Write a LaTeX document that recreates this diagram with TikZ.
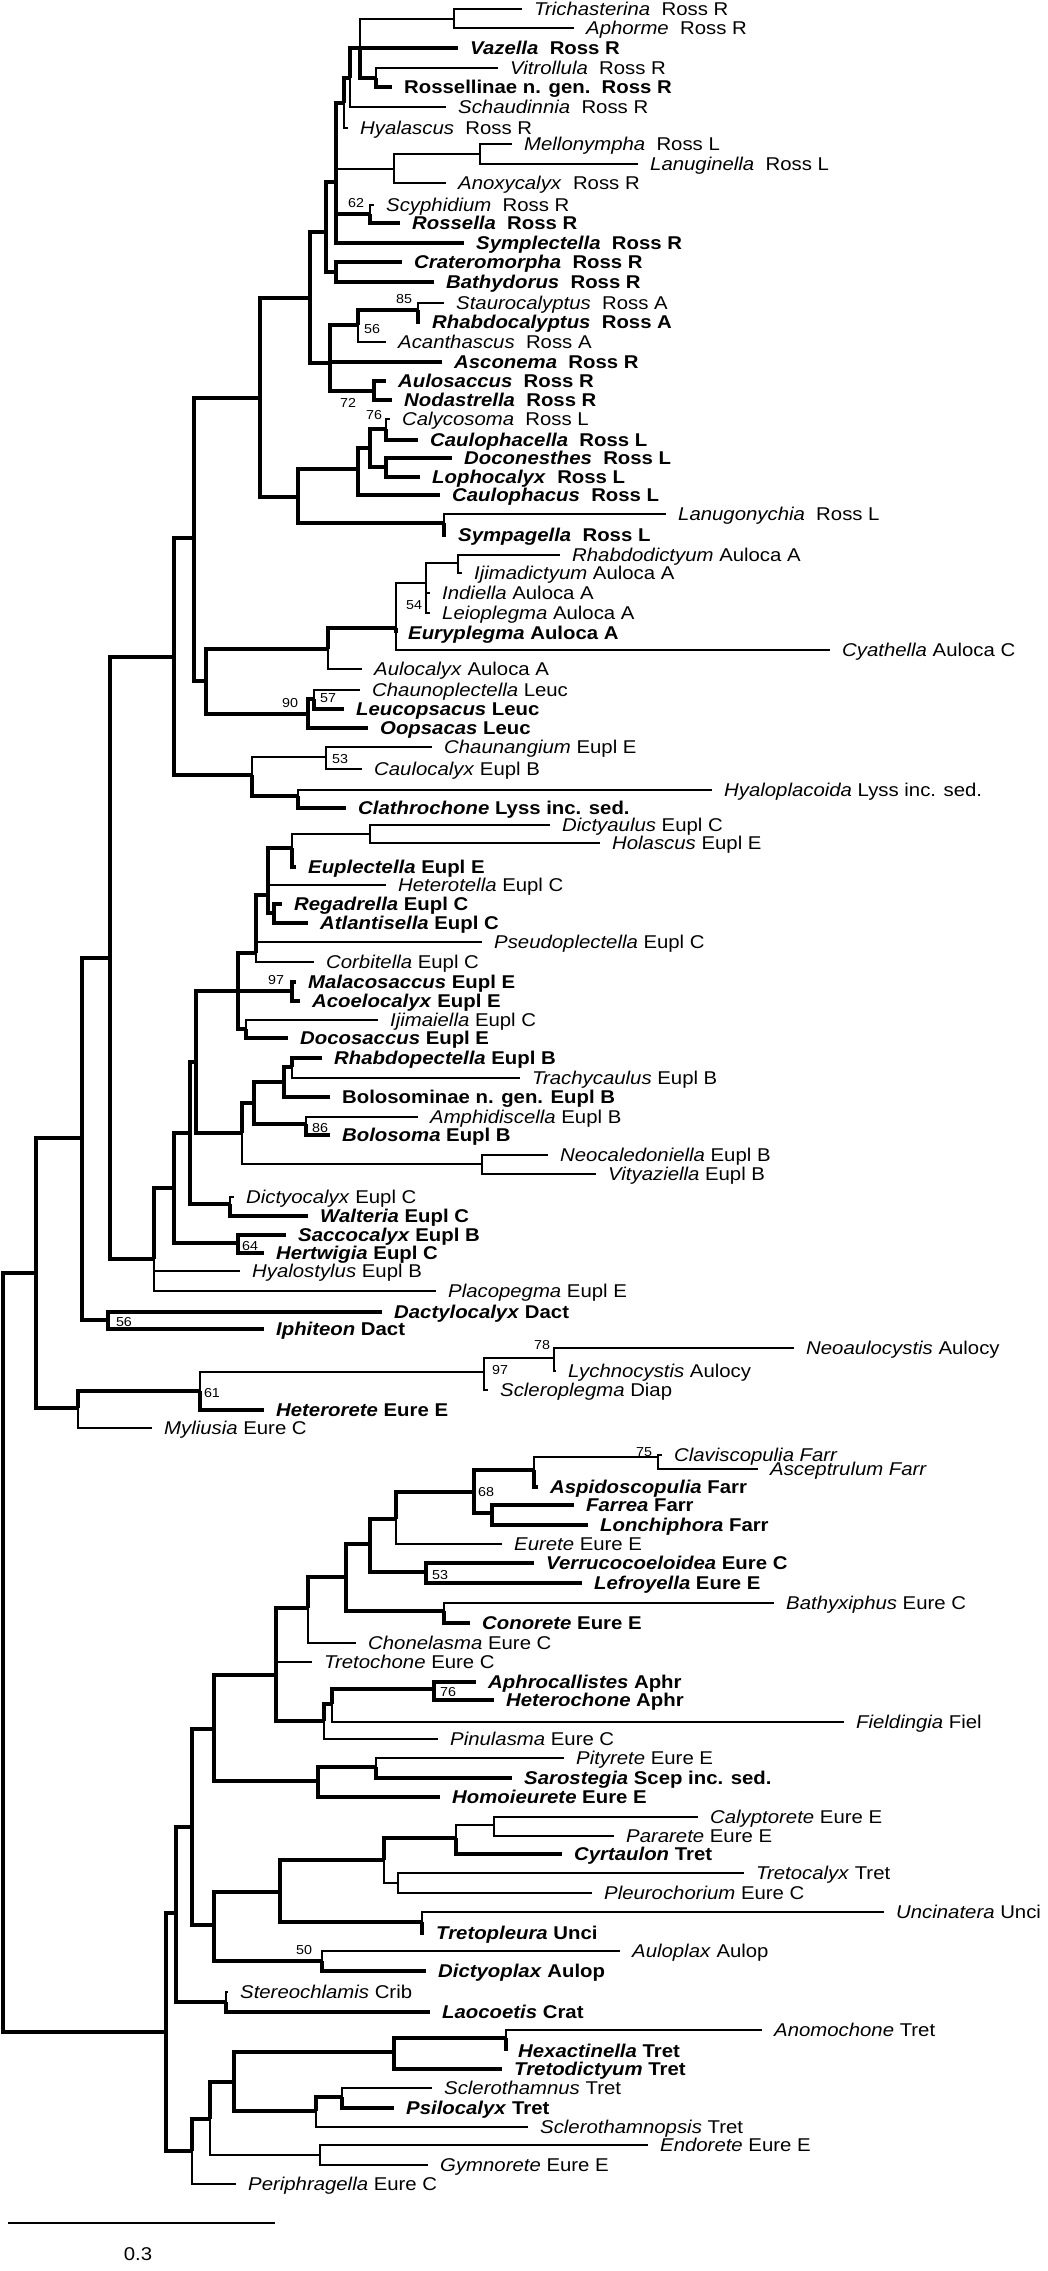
\documentclass[tikz,border=0pt]{standalone}
\usepackage{fontspec}
\setmainfont{Liberation Sans}[FakeStretch=1.1]
\newcommand\tipfont{\fontsize{18.5}{21}\selectfont}

\begin{document}
\begin{tikzpicture}[x=1pt, y=-1pt,
  tip/.style={anchor=west, inner xsep=12pt, inner ysep=0pt, text height=13.5pt, text depth=0pt, font=\tipfont},
  btip/.style={tip, font=\tipfont\bfseries},
  twig/.style={line width=1.3pt},
  trunk/.style={line width=3.3pt},
  boot/.style={inner sep=0pt, font=\fontsize{13}{14}\selectfont}
]
  \useasboundingbox (0,0) rectangle (1048,2271);

  % internal nodes
  \coordinate (pta) at (454,19);
  \coordinate (pvr) at (376,78);
  \coordinate (n1) at (360,48);
  \coordinate (n2) at (350,78);
  \coordinate (n3) at (344,103);
  \coordinate (pml) at (480,154);
  \coordinate (pmla) at (394,169);
  \coordinate (psr) at (370,214);
  \coordinate (n4) at (336,182);
  \coordinate (pcb) at (336,272);
  \coordinate (n5) at (326,232);
  \coordinate (psrh) at (418,310);
  \coordinate (psra) at (358,325);
  \coordinate (pan) at (374,391);
  \coordinate (n7) at (330,363);
  \coordinate (n6) at (310,298);
  \coordinate (pcc) at (386,429);
  \coordinate (pdl) at (386,467);
  \coordinate (pccdl) at (370,448);
  \coordinate (nc1) at (358,469);
  \coordinate (pls) at (444,523);
  \coordinate (ncaul) at (298,497);
  \coordinate (n8) at (260,398);
  \coordinate (pri) at (458,563);
  \coordinate (priil) at (426,583);
  \coordinate (peur) at (396,628);
  \coordinate (pea) at (328,649);
  \coordinate (pcl) at (314,699);
  \coordinate (pclo) at (308,714);
  \coordinate (naul) at (206,681);
  \coordinate (n9) at (194,538);
  \coordinate (pcc2) at (326,757);
  \coordinate (phc) at (298,796);
  \coordinate (nlyss) at (252,775);
  \coordinate (n10) at (174,657);
  \coordinate (pdh) at (370,834);
  \coordinate (pdhe) at (292,848);
  \coordinate (pra) at (274,913);
  \coordinate (ne1) at (268,895);
  \coordinate (ne2) at (256,953);
  \coordinate (pma) at (292,991);
  \coordinate (pid) at (246,1029);
  \coordinate (ne3) at (238,991);
  \coordinate (prt) at (292,1067);
  \coordinate (prtb) at (284,1082);
  \coordinate (pab) at (306,1124);
  \coordinate (nb1) at (254,1103);
  \coordinate (pnv) at (482,1164);
  \coordinate (nb2) at (242,1133);
  \coordinate (ne4) at (196,1062);
  \coordinate (pdw) at (230,1204);
  \coordinate (ne5) at (190,1133);
  \coordinate (psh) at (238,1243);
  \coordinate (ne6) at (174,1188);
  \coordinate (ne7) at (154,1259);
  \coordinate (n11) at (110,958);
  \coordinate (pdi) at (108,1320);
  \coordinate (n12) at (82,1138);
  \coordinate (pnl) at (554,1358);
  \coordinate (pnls) at (484,1372);
  \coordinate (ph) at (200,1391);
  \coordinate (n13) at (78,1408);
  \coordinate (n14) at (36,1273);
  \coordinate (pca) at (658,1457);
  \coordinate (pcaa) at (534,1470);
  \coordinate (pfl) at (492,1513);
  \coordinate (pfarr) at (474,1492);
  \coordinate (nh1) at (396,1519);
  \coordinate (pvl) at (426,1572);
  \coordinate (nh2) at (370,1544);
  \coordinate (pbc) at (444,1611);
  \coordinate (nh3) at (346,1577);
  \coordinate (nh4) at (308,1608);
  \coordinate (pah) at (434,1689);
  \coordinate (pahf) at (332,1704);
  \coordinate (papf) at (324,1721);
  \coordinate (nh5) at (276,1675);
  \coordinate (pps) at (376,1767);
  \coordinate (ppsh) at (318,1781);
  \coordinate (nh6) at (214,1729);
  \coordinate (pcp) at (494,1825);
  \coordinate (pcpc) at (456,1838);
  \coordinate (ptp) at (398,1883);
  \coordinate (nh7) at (384,1860);
  \coordinate (put) at (422,1922);
  \coordinate (nh8) at (280,1892);
  \coordinate (pad) at (322,1961);
  \coordinate (nh9) at (214,1925);
  \coordinate (nh10) at (192,1827);
  \coordinate (psl) at (226,2002);
  \coordinate (nh11) at (176,1913);
  \coordinate (panh) at (506,2038);
  \coordinate (paht) at (394,2052);
  \coordinate (psp) at (342,2097);
  \coordinate (psps) at (316,2111);
  \coordinate (nh12) at (234,2082);
  \coordinate (peg) at (320,2155);
  \coordinate (nh13) at (210,2119);
  \coordinate (nh14) at (192,2151);
  \coordinate (nh15) at (166,2032);
  \coordinate (root) at (3,1652);

  % tips
  \node[tip] (trich) at (522,9) {\textit{Trichasterina}\ \ Ross R};
  \node[tip] (aphor) at (574,28) {\textit{Aphorme}\ \ Ross R};
  \node[btip] (vaz) at (458,48) {\textit{Vazella}\ \ Ross R};
  \node[tip] (vitro) at (498,68) {\textit{Vitrollula}\ \ Ross R};
  \node[btip] (rossn) at (392,87) {Rossellinae n. gen.\ \ Ross R};
  \node[tip] (schaud) at (446,107) {\textit{Schaudinnia}\ \ Ross R};
  \node[tip] (hyal) at (348,128) {\textit{Hyalascus}\ \ Ross R};
  \node[tip] (mello) at (512,144) {\textit{Mellonympha}\ \ Ross L};
  \node[tip] (lanug) at (638,164) {\textit{Lanuginella}\ \ Ross L};
  \node[tip] (anoxy) at (446,183) {\textit{Anoxycalyx}\ \ Ross R};
  \node[tip] (scyph) at (374,205) {\textit{Scyphidium}\ \ Ross R};
  \node[btip] (rossella) at (400,223) {\textit{Rossella}\ \ Ross R};
  \node[btip] (sympl) at (464,243) {\textit{Symplectella}\ \ Ross R};
  \node[btip] (crat) at (402,262) {\textit{Crateromorpha}\ \ Ross R};
  \node[btip] (bathy) at (434,282) {\textit{Bathydorus}\ \ Ross R};
  \node[tip] (stauro) at (444,303) {\textit{Staurocalyptus}\ \ Ross A};
  \node[btip] (rhabdoc) at (420,322) {\textit{Rhabdocalyptus}\ \ Ross A};
  \node[tip] (acanth) at (386,342) {\textit{Acanthascus}\ \ Ross A};
  \node[btip] (ascon) at (442,362) {\textit{Asconema}\ \ Ross R};
  \node[btip] (aulos) at (386,381) {\textit{Aulosaccus}\ \ Ross R};
  \node[btip] (nodas) at (392,400) {\textit{Nodastrella}\ \ Ross R};
  \node[tip] (calyc) at (390,419) {\textit{Calycosoma}\ \ Ross L};
  \node[btip] (cphella) at (418,440) {\textit{Caulophacella}\ \ Ross L};
  \node[btip] (docon) at (452,458) {\textit{Doconesthes}\ \ Ross L};
  \node[btip] (lopho) at (420,477) {\textit{Lophocalyx}\ \ Ross L};
  \node[btip] (cphus) at (440,495) {\textit{Caulophacus}\ \ Ross L};
  \node[tip] (lanugo) at (666,514) {\textit{Lanugonychia}\ \ Ross L};
  \node[btip] (sympa) at (446,535) {\textit{Sympagella}\ \ Ross L};

  \node[tip] (rhabdod) at (560,555) {\textit{Rhabdodictyum} Auloca A};
  \node[tip] (ijima) at (462,573) {\textit{Ijimadictyum} Auloca A};
  \node[tip] (indi) at (430,593) {\textit{Indiella} Auloca A};
  \node[tip] (leio) at (430,613) {\textit{Leioplegma} Auloca A};
  \node[btip] (eury) at (396,633) {\textit{Euryplegma} Auloca A};
  \node[tip] (cyath) at (830,650) {\textit{Cyathella} Auloca C};
  \node[tip] (auloc) at (362,669) {\textit{Aulocalyx} Auloca A};
  \node[tip] (chaunop) at (360,690) {\textit{Chaunoplectella} Leuc};
  \node[btip] (leucop) at (344,709) {\textit{Leucopsacus} Leuc};
  \node[btip] (oopsa) at (368,728) {\textit{Oopsacas} Leuc};
  \node[tip] (chaunan) at (432,747) {\textit{Chaunangium} Eupl E};
  \node[tip] (cauloc) at (362,769) {\textit{Caulocalyx} Eupl B};
  \node[tip] (hyalop) at (712,790) {\textit{Hyaloplacoida} Lyss inc. sed.};
  \node[btip] (clath) at (346,808) {\textit{Clathrochone} Lyss inc. sed.};

  \node[tip] (dictyaul) at (550,825) {\textit{Dictyaulus} Eupl C};
  \node[tip] (holasc) at (600,843) {\textit{Holascus} Eupl E};
  \node[btip] (euplec) at (296,867) {\textit{Euplectella} Eupl E};
  \node[tip] (hetero) at (386,885) {\textit{Heterotella} Eupl C};
  \node[btip] (regad) at (282,904) {\textit{Regadrella} Eupl C};
  \node[btip] (atlan) at (308,923) {\textit{Atlantisella} Eupl C};
  \node[tip] (pseudo) at (482,942) {\textit{Pseudoplectella} Eupl C};
  \node[tip] (corbit) at (314,962) {\textit{Corbitella} Eupl C};
  \node[btip] (malaco) at (296,982) {\textit{Malacosaccus} Eupl E};
  \node[btip] (acoelo) at (300,1001) {\textit{Acoelocalyx} Eupl E};
  \node[tip] (ijimai) at (378,1020) {\textit{Ijimaiella} Eupl C};
  \node[btip] (docos) at (288,1038) {\textit{Docosaccus} Eupl E};
  \node[btip] (rhabdop) at (322,1058) {\textit{Rhabdopectella} Eupl B};
  \node[tip] (trachy) at (520,1078) {\textit{Trachycaulus} Eupl B};
  \node[btip] (bolosn) at (330,1097) {Bolosominae n. gen. Eupl B};
  \node[tip] (amphi) at (418,1117) {\textit{Amphidiscella} Eupl B};
  \node[btip] (bolos) at (330,1135) {\textit{Bolosoma} Eupl B};
  \node[tip] (neocal) at (548,1155) {\textit{Neocaledoniella} Eupl B};
  \node[tip] (vityaz) at (596,1174) {\textit{Vityaziella} Eupl B};
  \node[tip] (dictyoc) at (234,1197) {\textit{Dictyocalyx} Eupl C};
  \node[btip] (walter) at (308,1216) {\textit{Walteria} Eupl C};
  \node[btip] (sacco) at (286,1235) {\textit{Saccocalyx} Eupl B};
  \node[btip] (hertw) at (264,1253) {\textit{Hertwigia} Eupl C};
  \node[tip] (hyalos) at (240,1271) {\textit{Hyalostylus} Eupl B};
  \node[tip] (placo) at (436,1291) {\textit{Placopegma} Eupl E};
  \node[btip] (dactylo) at (382,1312) {\textit{Dactylocalyx} Dact};
  \node[btip] (iphit) at (264,1329) {\textit{Iphiteon} Dact};
  \node[tip] (neoaul) at (794,1348) {\textit{Neoaulocystis} Aulocy};
  \node[tip] (lychno) at (556,1371) {\textit{Lychnocystis} Aulocy};
  \node[tip] (sclerop) at (488,1390) {\textit{Scleroplegma} Diap};
  \node[btip] (heteror) at (264,1410) {\textit{Heterorete} Eure E};
  \node[tip] (mylius) at (152,1428) {\textit{Myliusia} Eure C};

  \node[tip] (clavis) at (662,1455) {\textit{Claviscopulia Farr}};
  \node[tip] (ascep) at (758,1469) {\textit{Asceptrulum Farr}};
  \node[btip] (aspido) at (538,1487) {\textit{Aspidoscopulia} Farr};
  \node[btip] (farrea) at (574,1505) {\textit{Farrea} Farr};
  \node[btip] (lonch) at (588,1525) {\textit{Lonchiphora} Farr};
  \node[tip] (eurete) at (502,1544) {\textit{Eurete} Eure E};
  \node[btip] (verruc) at (534,1563) {\textit{Verrucocoeloidea} Eure C};
  \node[btip] (lefroy) at (582,1583) {\textit{Lefroyella} Eure E};
  \node[tip] (bathyx) at (774,1603) {\textit{Bathyxiphus} Eure C};
  \node[btip] (conor) at (470,1623) {\textit{Conorete} Eure E};
  \node[tip] (chonel) at (356,1643) {\textit{Chonelasma} Eure C};
  \node[tip] (tretoch) at (312,1662) {\textit{Tretochone} Eure C};
  \node[btip] (aphroc) at (476,1682) {\textit{Aphrocallistes} Aphr};
  \node[btip] (heteroc) at (494,1700) {\textit{Heterochone} Aphr};
  \node[tip] (fieldi) at (844,1722) {\textit{Fieldingia} Fiel};
  \node[tip] (pinul) at (438,1739) {\textit{Pinulasma} Eure C};
  \node[tip] (pityr) at (564,1758) {\textit{Pityrete} Eure E};
  \node[btip] (sarost) at (512,1778) {\textit{Sarostegia} Scep inc. sed.};
  \node[btip] (homoi) at (440,1797) {\textit{Homoieurete} Eure E};
  \node[tip] (calypt) at (698,1817) {\textit{Calyptorete} Eure E};
  \node[tip] (parar) at (614,1836) {\textit{Pararete} Eure E};
  \node[btip] (cyrta) at (562,1854) {\textit{Cyrtaulon} Tret};
  \node[tip] (tretoc) at (744,1873) {\textit{Tretocalyx} Tret};
  \node[tip] (pleuro) at (592,1893) {\textit{Pleurochorium} Eure C};
  \node[tip] (uncin) at (884,1912) {\textit{Uncinatera} Unci};
  \node[btip] (tretop) at (424,1933) {\textit{Tretopleura} Unci};
  \node[tip] (aulop) at (620,1951) {\textit{Auloplax} Aulop};
  \node[btip] (dictyop) at (426,1971) {\textit{Dictyoplax} Aulop};
  \node[tip] (stereo) at (228,1992) {\textit{Stereochlamis} Crib};
  \node[btip] (laoco) at (430,2012) {\textit{Laocoetis} Crat};
  \node[tip] (anomo) at (762,2030) {\textit{Anomochone} Tret};
  \node[btip] (hexact) at (506,2051) {\textit{Hexactinella} Tret};
  \node[btip] (tretod) at (502,2069) {\textit{Tretodictyum} Tret};
  \node[tip] (sclerot) at (432,2088) {\textit{Sclerothamnus} Tret};
  \node[btip] (psiloc) at (394,2108) {\textit{Psilocalyx} Tret};
  \node[tip] (sclerops) at (528,2127) {\textit{Sclerothamnopsis} Tret};
  \node[tip] (endor) at (648,2145) {\textit{Endorete} Eure E};
  \node[tip] (gymno) at (428,2165) {\textit{Gymnorete} Eure E};
  \node[tip] (periph) at (236,2184) {\textit{Periphragella} Eure C};

  % branches
  \draw[twig] (pta) |- (trich.west) (pta) |- (aphor.west) (n1) |- (pta)
    (pvr) |- (vitro.west) (n2) |- (schaud.west) (n3) |- (hyal.west)
    (pml) |- (mello.west) (pml) |- (lanug.west) (pmla) |- (pml) (pmla) |- (anoxy.west) (n4) |- (pmla)
    (psr) |- (scyph.west) (psrh) |- (stauro.west) (psra) |- (acanth.west)
    (pcc) |- (calyc.west) (pls) |- (lanugo.west)
    (pri) |- (rhabdod.west) (pri) |- (ijima.west) (priil) |- (pri) (priil) |- (indi.west) (priil) |- (leio.west)
    (peur) |- (priil) (peur) |- (cyath.west) (pea) |- (auloc.west) (pcl) |- (chaunop.west)
    (pcc2) |- (chaunan.west) (pcc2) |- (cauloc.west) (nlyss) |- (pcc2) (phc) |- (hyalop.west)
    (pdh) |- (dictyaul.west) (pdh) |- (holasc.west) (pdhe) |- (pdh) (ne1) |- (hetero.west)
    (ne2) |- (pseudo.west) (ne2) |- (corbit.west) (pid) |- (ijimai.west) (prt) |- (trachy.west)
    (pab) |- (amphi.west) (pnv) |- (neocal.west) (pnv) |- (vityaz.west) (nb2) |- (pnv)
    (pdw) |- (dictyoc.west) (ne7) |- (hyalos.west) (ne7) |- (placo.west)
    (pnl) |- (neoaul.west) (pnl) |- (lychno.west) (pnls) |- (pnl) (pnls) |- (sclerop.west) (ph) |- (pnls)
    (n13) |- (mylius.west)
    (pca) |- (clavis.west) (pca) |- (ascep.west) (pcaa) |- (pca) (nh1) |- (eurete.west)
    (pbc) |- (bathyx.west) (nh4) |- (chonel.west) (nh5) |- (tretoch.west)
    (pahf) |- (fieldi.west) (papf) |- (pinul.west) (pps) |- (pityr.west)
    (pcp) |- (calypt.west) (pcp) |- (parar.west) (pcpc) |- (pcp)
    (ptp) |- (tretoc.west) (ptp) |- (pleuro.west) (nh7) |- (ptp)
    (put) |- (uncin.west) (pad) |- (aulop.west) (psl) |- (stereo.west) (panh) |- (anomo.west)
    (psp) |- (sclerot.west) (psps) |- (sclerops.west)
    (peg) |- (endor.west) (peg) |- (gymno.west) (nh13) |- (peg) (nh14) |- (periph.west);

  \draw[trunk] (n1) |- (vaz.west) (n1) |- (pvr) (pvr) |- (rossn.west) (n2) |- (n1) (n3) |- (n2) (n4) |- (n3)
    (psr) |- (rossella.west) (n4) |- (psr) (n4) |- (sympl.west) (n5) |- (n4)
    (pcb) |- (crat.west) (pcb) |- (bathy.west) (n5) |- (pcb) (n6) |- (n5)
    (psrh) |- (rhabdoc.west) (psra) |- (psrh) (n7) |- (psra) (n7) |- (ascon.west)
    (pan) |- (aulos.west) (pan) |- (nodas.west) (n7) |- (pan) (n6) |- (n7) (n8) |- (n6)
    (pcc) |- (cphella.west) (pccdl) |- (pcc) (pdl) |- (docon.west) (pdl) |- (lopho.west) (pccdl) |- (pdl)
    (nc1) |- (pccdl) (nc1) |- (cphus.west) (ncaul) |- (nc1)
    (pls) |- (sympa.west) (ncaul) |- (pls) (n8) |- (ncaul) (n9) |- (n8)
    (peur) |- (eury.west) (pea) |- (peur) (naul) |- (pea)
    (pcl) |- (leucop.west) (pclo) |- (pcl) (pclo) |- (oopsa.west) (naul) |- (pclo) (n9) |- (naul) (n10) |- (n9)
    (phc) |- (clath.west) (nlyss) |- (phc) (n10) |- (nlyss) (n11) |- (n10)
    (pdhe) |- (euplec.west) (ne1) |- (pdhe) (pra) |- (regad.west) (pra) |- (atlan.west) (ne1) |- (pra)
    (ne2) |- (ne1) (ne3) |- (ne2)
    (pma) |- (malaco.west) (pma) |- (acoelo.west) (ne3) |- (pma)
    (pid) |- (docos.west) (ne3) |- (pid) (ne4) |- (ne3)
    (prt) |- (rhabdop.west) (prtb) |- (prt) (prtb) |- (bolosn.west) (nb1) |- (prtb)
    (pab) |- (bolos.west) (nb1) |- (pab) (nb2) |- (nb1) (ne4) |- (nb2) (ne5) |- (ne4)
    (pdw) |- (walter.west) (ne5) |- (pdw) (ne6) |- (ne5)
    (psh) |- (sacco.west) (psh) |- (hertw.west) (ne6) |- (psh) (ne7) |- (ne6) (n11) |- (ne7) (n12) |- (n11)
    (pdi) |- (dactylo.west) (pdi) |- (iphit.west) (n12) |- (pdi) (n14) |- (n12)
    (ph) |- (heteror.west) (n13) |- (ph) (n14) |- (n13) (root) |- (n14)
    (pcaa) |- (aspido.west) (pfarr) |- (pcaa) (pfl) |- (farrea.west) (pfl) |- (lonch.west) (pfarr) |- (pfl)
    (nh1) |- (pfarr) (nh2) |- (nh1)
    (pvl) |- (verruc.west) (pvl) |- (lefroy.west) (nh2) |- (pvl) (nh3) |- (nh2)
    (pbc) |- (conor.west) (nh3) |- (pbc) (nh4) |- (nh3) (nh5) |- (nh4)
    (pah) |- (aphroc.west) (pah) |- (heteroc.west) (pahf) |- (pah) (papf) |- (pahf) (nh5) |- (papf) (nh6) |- (nh5)
    (pps) |- (sarost.west) (ppsh) |- (pps) (ppsh) |- (homoi.west) (nh6) |- (ppsh) (nh10) |- (nh6)
    (pcpc) |- (cyrta.west) (nh7) |- (pcpc) (nh8) |- (nh7)
    (put) |- (tretop.west) (nh8) |- (put) (nh9) |- (nh8)
    (pad) |- (dictyop.west) (nh9) |- (pad) (nh10) |- (nh9) (nh11) |- (nh10)
    (psl) |- (laoco.west) (nh11) |- (psl) (nh15) |- (nh11)
    (panh) |- (hexact.west) (paht) |- (panh) (paht) |- (tretod.west) (nh12) |- (paht)
    (psp) |- (psiloc.west) (psps) |- (psp) (nh12) |- (psps) (nh13) |- (nh12) (nh14) |- (nh13)
    (nh15) |- (nh14) (root) |- (nh15);

  % bootstrap values
  \node[boot] (b1) at (356,203) {62};
  \node[boot] (b2) at (404,299) {85};
  \node[boot] (b3) at (372,329) {56};
  \node[boot] (b4) at (348,403) {72};
  \node[boot] (b5) at (374,415) {76};
  \node[boot] (b6) at (414,605) {54};
  \node[boot] (b7) at (290,703) {90};
  \node[boot] (b8) at (328,698) {57};
  \node[boot] (b9) at (340,759) {53};
  \node[boot] (b10) at (276,980) {97};
  \node[boot] (b11) at (320,1128) {86};
  \node[boot] (b12) at (250,1246) {64};
  \node[boot] (b13) at (124,1322) {56};
  \node[boot] (b14) at (542,1345) {78};
  \node[boot] (b15) at (500,1370) {97};
  \node[boot] (b16) at (212,1393) {61};
  \node[boot] (b17) at (644,1452) {75};
  \node[boot] (b18) at (486,1492) {68};
  \node[boot] (b19) at (440,1575) {53};
  \node[boot] (b20) at (448,1692) {76};
  \node[boot] (b21) at (304,1950) {50};

  % scale bar
  \coordinate (sbl) at (8,2223);
  \coordinate (sbr) at (275,2223);
  \draw[twig] (sbl) -- (sbr);
  \node[inner sep=0pt, font=\tipfont] (sbtxt) at (138,2254) {0.3};
\end{tikzpicture}
\end{document}
